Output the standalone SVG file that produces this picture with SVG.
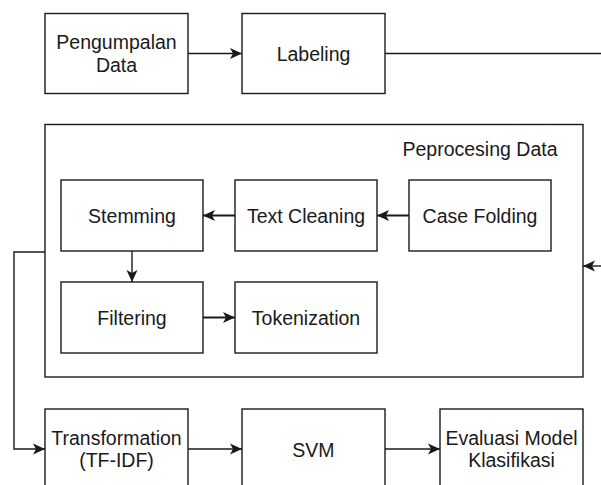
<svg xmlns="http://www.w3.org/2000/svg" width="601" height="485" viewBox="0 0 601 485">
<defs>
<style>
.box{fill:#fff;stroke:#1a1a1a;stroke-width:1.4}
.t{font-family:"Liberation Sans",Arial,sans-serif;font-size:19.5px;fill:#1a1a1a;text-anchor:middle}
.c{fill:none;stroke:#1a1a1a;stroke-width:1.4}
.b{stroke-width:2}
</style>
<marker id="ah" markerUnits="userSpaceOnUse" markerWidth="14" markerHeight="14" viewBox="-13 -7 14 14" refX="0" refY="0" orient="auto">
<path d="M0,0 L-12,-5.5 L-9,0 L-12,5.5 Z" fill="#1a1a1a"/>
</marker>
</defs>
<rect width="601" height="485" fill="#fff"/>
<g id="preprocessing">
<rect class="box" x="45" y="124.5" width="538" height="252.5"/>
<text class="t" x="480" y="156">Peprocesing Data</text>
</g>
<g id="pengumpulan">
<rect class="box" x="45" y="13.5" width="143" height="80"/>
<text class="t" x="116.5" y="49">Pengumpalan</text>
<text class="t" x="116.5" y="71.5">Data</text>
</g>
<g id="labeling">
<rect class="box" x="242" y="13.5" width="143" height="80"/>
<text class="t" x="313.5" y="61">Labeling</text>
</g>
<g id="stemming">
<rect class="box" x="61" y="180" width="142" height="71"/>
<text class="t" x="132" y="223">Stemming</text>
</g>
<g id="textcleaning">
<rect class="box" x="235" y="180" width="142" height="71"/>
<text class="t" x="306" y="223">Text Cleaning</text>
</g>
<g id="casefolding">
<rect class="box" x="409" y="180" width="142" height="71"/>
<text class="t" x="480" y="223">Case Folding</text>
</g>
<g id="filtering">
<rect class="box" x="61" y="282" width="142" height="71"/>
<text class="t" x="132" y="325">Filtering</text>
</g>
<g id="tokenization">
<rect class="box" x="235" y="282" width="142" height="71"/>
<text class="t" x="306" y="325">Tokenization</text>
</g>
<g id="transformation">
<rect class="box" x="45" y="409" width="143" height="80"/>
<text class="t" x="116.5" y="444.5">Transformation</text>
<text class="t" x="116.5" y="467">(TF-IDF)</text>
</g>
<g id="svm">
<rect class="box" x="242" y="409" width="143" height="80"/>
<text class="t" x="313.5" y="456.5">SVM</text>
</g>
<g id="evaluasi">
<rect class="box" x="440" y="409" width="143" height="80"/>
<text class="t" x="511.5" y="444.5">Evaluasi Model</text>
<text class="t" x="511.5" y="467">Klasifikasi</text>
</g>
<g id="connectors">
<path class="c" d="M188,53.5 H242" marker-end="url(#ah)"/>
<path class="c" d="M385,53.5 H601"/>
<path class="c" d="M601,266 H583" marker-end="url(#ah)"/>
<path class="c b" d="M409,215.5 H377" marker-end="url(#ah)"/>
<path class="c b" d="M235,215.5 H203" marker-end="url(#ah)"/>
<path class="c" d="M132,251 V282" marker-end="url(#ah)"/>
<path class="c b" d="M203,317.5 H235" marker-end="url(#ah)"/>
<path class="c" d="M45,252 H14 V449 H45" marker-end="url(#ah)"/>
<path class="c" d="M188,449 H242" marker-end="url(#ah)"/>
<path class="c" d="M385,449 H440" marker-end="url(#ah)"/>
</g>
</svg>
